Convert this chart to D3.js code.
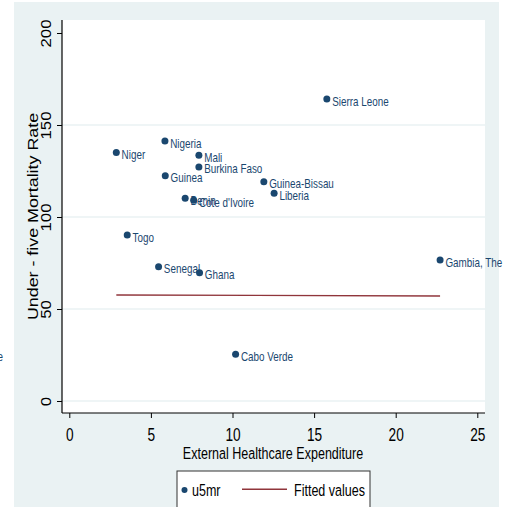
<!DOCTYPE html>
<html>
<head>
<meta charset="utf-8">
<script src="https://cdn.jsdelivr.net/npm/d3@7"></script>
<style>
  html, body { margin: 0; padding: 0; background: #fff; }
  svg { display: block; }
  text { font-family: "Liberation Sans", Arial, sans-serif; }
</style>
</head>
<body>
<svg id="chart" width="529" height="507"></svg>
<script>
// Under-five mortality vs. external healthcare expenditure, West Africa
const countries = ["Sierra Leone", "Nigeria", "Niger", "Mali", "Burkina Faso", "Guinea",
  "Guinea-Bissau", "Liberia", "Benin", "Cote d'Ivoire", "Togo", "Senegal", "Ghana",
  "Gambia, The", "Cabo Verde"];
const expenditure = [15.78, 5.86, 2.88, 7.94, 7.94, 5.88, 11.92, 12.55, 7.10, 7.62,
  3.55, 5.47, 7.98, 22.72, 10.19];
const u5mr = [164.1, 141.3, 135.0, 133.5, 127.2, 122.4, 119.2, 112.9, 110.2, 109.1,
  90.2, 73.0, 69.7, 76.6, 25.4];

// Fitted values (linear fit) at the ends of the expenditure range
const fitX = [2.88, 22.72];
const fitY = [57.6, 57.1];

const xTicks = [0, 5, 10, 15, 20, 25];
const yTicks = [0, 50, 100, 150, 200];
const yGrid = [0, 50, 100, 150];

const navy = "#1a476f";
const maroon = "#90353b";
const bg = "#eaf2f3";
const NARROW = 0.76; // horizontal squeeze to mimic a condensed face

const svg = d3.select("#chart");

// Condensed text: positioned by a group, squeezed horizontally
function narrowText(parent, px, py, str, size, color, anchor) {
  return parent.append("text")
    .attr("transform", `translate(${px},${py}) scale(${NARROW},1)`)
    .attr("font-size", size).attr("fill", color)
    .attr("text-anchor", anchor || "start")
    .text(str);
}

// Outer graph region
svg.append("rect").attr("x", 14).attr("y", 2).attr("width", 485).attr("height", 505)
  .attr("fill", bg);

// Plot region
const plot = { left: 62, right: 485, top: 20, bottom: 413 };
svg.append("rect").attr("x", plot.left).attr("y", plot.top)
  .attr("width", plot.right - plot.left).attr("height", plot.bottom - plot.top)
  .attr("fill", "#fff");

const x = d3.scaleLinear().domain([0, 25]).range([69.3, 477.3]);
const y = d3.scaleLinear().domain([0, 200]).range([401, 33]);

// Grid lines
svg.append("g").selectAll("line").data(yGrid).join("line")
  .attr("x1", plot.left).attr("x2", plot.right)
  .attr("y1", d => y(d)).attr("y2", d => y(d))
  .attr("stroke", bg).attr("stroke-width", 1.5);

// X axis
const xAxis = d3.axisBottom(x).tickValues(xTicks).tickSize(5).tickFormat(d3.format("d"));
const gx = svg.append("g").attr("transform", `translate(0,${plot.bottom})`).call(xAxis);
gx.select(".domain").remove();
gx.append("line").attr("x1", plot.left).attr("x2", plot.right).attr("y1", 0).attr("y2", 0)
  .attr("stroke", "#000").attr("stroke-width", 1.2);
gx.selectAll(".tick line").attr("stroke", "#000");
gx.selectAll(".tick text")
  .attr("y", null).attr("dy", null)
  .attr("transform", `translate(0,28) scale(${NARROW},1)`)
  .attr("font-size", 18).attr("fill", "#000");

// Y axis
const yAxis = d3.axisLeft(y).tickValues(yTicks).tickSize(5).tickFormat(d3.format("d"));
const gy = svg.append("g").attr("transform", `translate(${plot.left},0)`).call(yAxis);
gy.select(".domain").remove();
gy.append("line").attr("x1", 0).attr("x2", 0).attr("y1", plot.top).attr("y2", plot.bottom)
  .attr("stroke", "#000").attr("stroke-width", 1.2);
gy.selectAll(".tick line").attr("stroke", "#000");
gy.selectAll(".tick text")
  .attr("font-size", 14.5).attr("fill", "#000")
  .attr("x", 0).attr("y", 0).attr("dy", null)
  .attr("text-anchor", "middle")
  .attr("transform", "translate(-11.3,0) rotate(-90) scale(1.15,1)");

// Axis titles
narrowText(svg, 273, 458.5, "External Healthcare Expenditure", 16.5, "#000", "middle");
svg.append("text")
  .attr("transform", `translate(38,${y(100) - 0.5}) rotate(-90) scale(1.19,1)`)
  .attr("text-anchor", "middle").attr("font-size", 15).attr("fill", "#000")
  .text("Under - five Mortality Rate");

// Fitted line
svg.append("line")
  .attr("x1", x(fitX[0])).attr("y1", y(fitY[0]))
  .attr("x2", x(fitX[1])).attr("y2", y(fitY[1]))
  .attr("stroke", maroon).attr("stroke-width", 1.4);

// Points and labels
const pts = countries.map((c, i) => ({ c, ex: expenditure[i], u: u5mr[i] }));
svg.append("g").selectAll("circle").data(pts).join("circle")
  .attr("cx", d => x(d.ex)).attr("cy", d => y(d.u)).attr("r", 3.5).attr("fill", navy);
const lbl = svg.append("g");
pts.forEach(d => narrowText(lbl, x(d.ex) + 5.3, y(d.u) + 6.5, d.c, 13, navy));

// Clipped label fragment at the left edge
narrowText(svg, 3, 361, "e", 13, navy, "end");

// Legend
const lg = svg.append("g");
lg.append("rect").attr("x", 177).attr("y", 471).attr("width", 193).attr("height", 40)
  .attr("fill", "#fff").attr("stroke", "#333").attr("stroke-width", 1);
lg.append("circle").attr("cx", 184.5).attr("cy", 490).attr("r", 3).attr("fill", navy);
narrowText(lg, 192, 496, "u5mr", 16.5, "#000");
lg.append("line").attr("x1", 242).attr("x2", 287).attr("y1", 489.3).attr("y2", 489.3)
  .attr("stroke", maroon).attr("stroke-width", 1.4);
narrowText(lg, 294, 496, "Fitted values", 16.5, "#000");
</script>
</body>
</html>
